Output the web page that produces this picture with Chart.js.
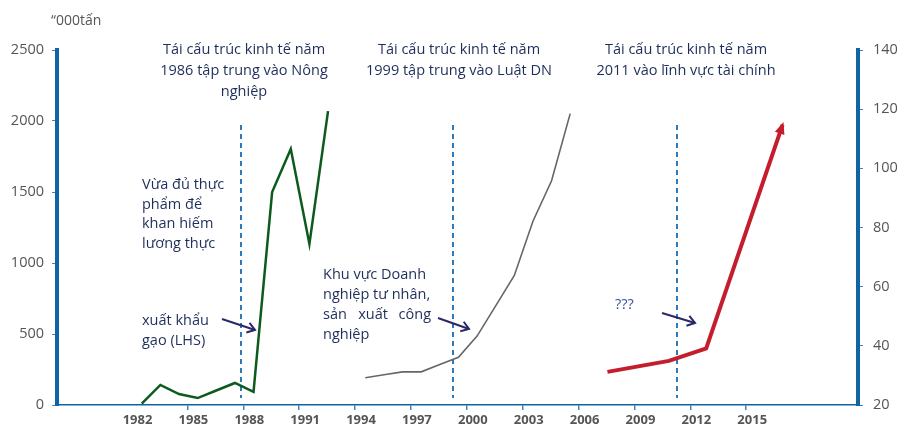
<!DOCTYPE html>
<html>
<head>
<meta charset="utf-8">
<script src="https://cdn.jsdelivr.net/npm/chart.js@4.4.0/dist/chart.umd.min.js"></script>
<style>
  html, body { margin: 0; padding: 0; background: #fff; }
  #wrap { width: 903px; height: 427px; position: relative; }
</style>
</head>
<body>
<div id="wrap"><canvas id="c" width="903" height="427"></canvas></div>
<script>
/* data */
const riceYears   = [1982, 1983, 1984, 1985, 1986, 1987, 1988, 1989, 1990, 1991, 1992];
const riceExport  = [10, 141, 77, 49, 102, 155, 92, 1500, 1803, 1134, 2070];   // '000 tấn (LHS)
const privYears   = [1994, 1995, 1996, 1997, 1998, 1999, 2000, 2001, 2002, 2003, 2004, 2005];
const privIndex   = [29.2, 30.2, 31.2, 31.2, 33.7, 36.1, 43.3, 53.5, 63.8, 82.1, 95.8, 118.5]; // RHS
const finYears    = [2007, 2010.3, 2012.3, 2016.4];
const finIndex    = [31.2, 34.9, 39.1, 114.7];                                  // RHS
const xTickYears  = [1982, 1985, 1988, 1991, 1994, 1997, 2000, 2003, 2006, 2009, 2012, 2015];
const reformX     = [1987.9, 1999.25, 2011.3];   // dashed markers, axis units

const CENTER = 0.55;   // points sit in the middle of each year slot
const AXIS = '#0F64A6', TICKC = '#3F86C2', LBL = '#555', NAVY = '#1E2E5A';
const FONT = '"Open Sans", sans-serif';

const pts = (xs, ys) => xs.map((x, i) => ({ x: x + CENTER, y: ys[i] }));

const decor = {
  id: 'decor',
  beforeDatasetsDraw(chart) {
    const { ctx, scales: { x } } = chart;
    ctx.save();
    ctx.strokeStyle = '#2B7BBC';
    ctx.lineWidth = 2;
    ctx.setLineDash([5, 4]);
    reformX.forEach(v => {
      const px = Math.round(x.getPixelForValue(v));
      ctx.beginPath(); ctx.moveTo(px, 125); ctx.lineTo(px, 398); ctx.stroke();
    });
    ctx.restore();
  },
  afterDatasetsDraw(chart) {
    const { ctx } = chart;
    // arrow head on the red line
    const m = chart.getDatasetMeta(2).data;
    const a = m[m.length - 2], b = m[m.length - 1];
    const ang = Math.atan2(b.y - a.y, b.x - a.x);
    ctx.save();
    ctx.fillStyle = '#C41E2E';
    ctx.translate(b.x, b.y); ctx.rotate(ang);
    ctx.beginPath(); ctx.moveTo(3, 0); ctx.lineTo(-9, -5); ctx.lineTo(-9, 5); ctx.closePath(); ctx.fill();
    ctx.restore();

    // texts
    ctx.save();
    ctx.fillStyle = LBL;
    ctx.font = '14px ' + FONT;
    ctx.textBaseline = 'middle';
    ctx.textAlign = 'left';
    ctx.fillText('“000tấn', 51, 21);

    ctx.fillStyle = NAVY;
    ctx.font = '14.5px ' + FONT;
    ctx.textAlign = 'center';
    const titles = [
      { x: 244, lines: ['Tái cấu trúc kinh tế năm', '1986 tập trung vào Nông', 'nghiệp'] },
      { x: 459, lines: ['Tái cấu trúc kinh tế năm', '1999 tập trung vào Luật DN'] },
      { x: 686, lines: ['Tái cấu trúc kinh tế năm', '2011 vào lĩnh vực tài chính'] },
    ];
    titles.forEach(t => t.lines.forEach((s, i) => ctx.fillText(s, t.x, 50 + i * 21)));

    ctx.textAlign = 'left';
    ['Vừa đủ thực', 'phẩm để', 'khan hiếm', 'lương thực'].forEach((s, i) => ctx.fillText(s, 142, 185 + i * 19.5));
    ['xuất khẩu', 'gạo (LHS)'].forEach((s, i) => ctx.fillText(s, 142, 321 + i * 19.5));
    ['Khu vực Doanh', 'nghiệp tư nhân,'].forEach((s, i) => ctx.fillText(s, 323, 275 + i * 20));
    ctx.fillText('sản', 323, 315);
    ctx.textAlign = 'center'; ctx.fillText('xuất', 373, 315);
    ctx.textAlign = 'right'; ctx.fillText('công', 431, 315);
    ctx.textAlign = 'left'; ctx.fillText('nghiệp', 323, 335);
    ctx.fillStyle = '#3A52A0';
    ctx.fillText('???', 615, 305);

    // pointer arrows
    ctx.strokeStyle = '#2A2868'; ctx.lineWidth = 2;
    [[222, 319, 255, 330], [438, 318, 469, 329], [662, 313, 695, 323]].forEach(([x1, y1, x2, y2]) => {
      const an = Math.atan2(y2 - y1, x2 - x1);
      ctx.beginPath(); ctx.moveTo(x1, y1); ctx.lineTo(x2, y2); ctx.stroke();
      ctx.beginPath();
      ctx.moveTo(x2 - 9 * Math.cos(an - 0.6), y2 - 9 * Math.sin(an - 0.6));
      ctx.lineTo(x2, y2);
      ctx.lineTo(x2 - 9 * Math.cos(an + 0.6), y2 - 9 * Math.sin(an + 0.6));
      ctx.stroke();
    });
    ctx.restore();
  }
};

new Chart(document.getElementById('c'), {
  type: 'line',
  data: {
    datasets: [
      { data: pts(riceYears, riceExport), yAxisID: 'y',  borderColor: '#0D5A1F', borderWidth: 2.5 },
      { data: pts(privYears, privIndex),  yAxisID: 'y1', borderColor: '#666666', borderWidth: 1.6 },
      { data: pts(finYears, finIndex),    yAxisID: 'y1', borderColor: '#C41E2E', borderWidth: 4 },
    ]
  },
  options: {
    responsive: false,
    animation: false,
    parsing: false,
    elements: { point: { radius: 0 }, line: { tension: 0 } },
    layout: { padding: { top: 50, left: 0, right: 0, bottom: 0 } },
    plugins: { legend: { display: false }, tooltip: { enabled: false } },
    scales: {
      x: {
        type: 'linear', min: 1978, max: 2021,
        afterBuildTicks: s => { s.ticks = xTickYears.map(v => ({ value: v })); },
        afterFit: s => { s.height = 22; },
        border: { color: AXIS, width: 1.5 },
        grid: {
          drawOnChartArea: false, tickLength: 5, lineWidth: 1.5,
          color: c => (c.tick && c.tick.value === 1982) ? 'rgba(0,0,0,0)' : TICKC
        },
        ticks: {
          callback: v => String(v), labelOffset: 6, padding: 2, autoSkip: false, maxRotation: 0,
          color: LBL, font: { family: FONT, size: 13, weight: 'bold' }
        }
      },
      y: {
        position: 'left', min: 0, max: 2500,
        afterFit: s => { s.width = 57; },
        border: { color: AXIS, width: 4 },
        grid: { drawOnChartArea: false, tickLength: 5, color: TICKC },
        ticks: { stepSize: 500, padding: 8, callback: v => String(v), color: LBL, font: { family: FONT, size: 14.5 } }
      },
      y1: {
        position: 'right', min: 20, max: 140,
        afterFit: s => { s.width = 45; },
        border: { color: AXIS, width: 4 },
        grid: { drawOnChartArea: false, tickLength: 5, color: TICKC },
        ticks: { stepSize: 20, padding: 10, callback: v => String(v), color: LBL, font: { family: FONT, size: 14.5 } }
      }
    }
  },
  plugins: [decor]
});
</script>
</body>
</html>
